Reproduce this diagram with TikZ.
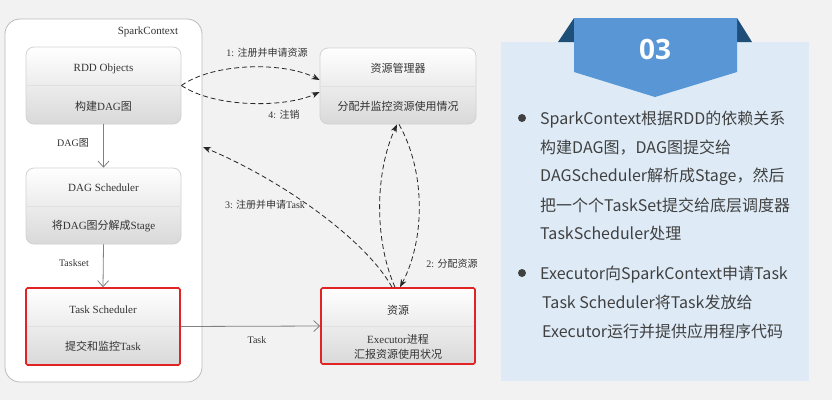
\documentclass[tikz,border=0pt]{standalone}
\usepackage{fontspec}
\setmainfont{Liberation Serif}
\newfontfamily\cjk{Noto Sans CJK SC}
\newfontfamily\numfont{Open Sans}
\usetikzlibrary{arrows.meta}
\definecolor{bg}{HTML}{F2F2F2}
\definecolor{boxline}{HTML}{D2D2D2}
\definecolor{outerline}{HTML}{BBBBBB}
\definecolor{redline}{HTML}{E02424}
\definecolor{txt}{HTML}{333333}
\definecolor{panel}{HTML}{DEEBF7}
\definecolor{ribbon}{HTML}{5896D5}
\definecolor{ribbondark}{HTML}{1F4E79}
\definecolor{bodytxt}{HTML}{404040}
\newcommand{\zh}[1]{{\cjk #1}}
\tikzset{
  stage/.style={draw=boxline, line width=0.8pt, rounded corners=8pt, top color=white, bottom color=black!15, minimum width=155pt, minimum height=77pt, inner sep=0pt},
  redstage/.style={stage, draw=redline, line width=1.6pt, rounded corners=1.5pt},
  divider/.style={draw=black!12, line width=0.8pt},
  boxtext/.style={font=\fontsize{11}{13}\selectfont, text=txt, align=center, inner sep=0pt},
  lbl/.style={font=\fontsize{10}{12}\selectfont, text=txt, inner sep=0pt},
  flow/.style={draw=black!50, line width=0.8pt, -{Straight Barb[length=6pt,width=11pt]}},
  dasharrow/.style={draw=black!85, line width=0.8pt, dash pattern=on 5pt off 3pt, -{Stealth[length=8pt,width=6pt]}},
  bodyline/.style={anchor=base west, font=\cjk\fontsize{16}{18}\selectfont, text=bodytxt, inner sep=0pt},
}
\begin{document}
\begin{tikzpicture}[x=1pt, y=-1pt]
\useasboundingbox (0,0) rectangle (832,400);
\fill[bg] (0,0) rectangle (832,400);

% SparkContext container
\node[draw=outerline, line width=0.8pt, fill=white, rounded corners=15pt, minimum width=197pt, minimum height=363pt, inner sep=0pt] (sc) at (103.5,200.5) {};
\node[boxtext] (sctitle) at (148,32) {SparkContext};
\coordinate (scin) at (203,147);

% boxes
\node[stage] (rdd) at (103.5,85.5) {};
\node[stage, minimum height=76pt] (dag) at (103.5,206) {};
\node[redstage, minimum width=154pt] (ts) at (103,326.5) {};
\node[stage, minimum width=156pt, minimum height=76pt] (rm) at (398,86) {};
\node[redstage, minimum width=154pt, minimum height=76pt] (res) at (398,326) {};

\foreach \b in {rdd,dag,rm}{\draw[divider] ([xshift=1pt]\b.west) -- ([xshift=-1pt]\b.east);}
\foreach \b in {ts,res}{\draw[divider] ([xshift=2pt]\b.west) -- ([xshift=-2pt]\b.east);}

\node[boxtext] (rddt) at ([yshift=16.5pt]rdd.center) {RDD Objects};
\node[boxtext] (rddb) at ([yshift=-20.5pt]rdd.center) {\zh{构建}DAG\zh{图}};
\node[boxtext] (dagt) at ([yshift=18pt]dag.center) {DAG Scheduler};
\node[boxtext] (dagb) at ([yshift=-20pt]dag.center) {\zh{将}DAG\zh{图分解成}Stage};
\node[boxtext] (tst) at ([yshift=16.5pt]ts.center) {Task Scheduler};
\node[boxtext] (tsb) at ([yshift=-19.5pt]ts.center) {\zh{提交和监控}Task};
\node[boxtext] (rmt) at ([yshift=18pt]rm.center) {\zh{资源管理器}};
\node[boxtext] (rmb) at ([yshift=-20pt]rm.center) {\zh{分配并监控资源使用情况}};
\node[boxtext] (rest) at ([yshift=16pt]res.center) {\zh{资源}};
\node[boxtext, font=\fontsize{11}{15}\selectfont] (resb) at ([yshift=-20.5pt]res.center) {Executor\zh{进程}\\\zh{汇报资源使用状况}};

% solid flow arrows
\draw[flow] (rdd.south) -- (dag.north);
\draw[flow] (dag.south) -- (ts.north);
\draw[flow] (ts.east) -- (res.west);
\node[lbl] (l_dag) at (73,143) {DAG\zh{图}};
\node[lbl] (l_taskset) at (74,263) {Taskset};
\node[lbl] (l_task) at (257,340) {Task};

% dashed arrows
\draw[dasharrow] (rdd.east) .. controls (215,62) and (285,62) .. ([yshift=6pt]rm.west);
\draw[dasharrow] (rdd.east) .. controls (215,108) and (285,108) .. ([yshift=-6pt]rm.west);
\draw[dasharrow] ([xshift=-6pt]res.north) .. controls (366,240) and (282,180) .. (scin);
\draw[dasharrow] ([xshift=-3pt]res.north) .. controls (374,240) and (375,172) .. ([xshift=-1pt]rm.south);
\draw[dasharrow] ([xshift=1pt]rm.south) .. controls (426,172) and (425,240) .. ([xshift=2pt]res.north);
\node[lbl] (l1) at (267,53) {1: \zh{注册并申请资源}};
\node[lbl] (l4) at (284,115) {4: \zh{注销}};
\node[lbl] (l3) at (265,205) {3: \zh{注册并申请}Task};
\node[lbl] (l2) at (452,264) {2: \zh{分配资源}};

% right panel
\fill[panel] (501,42) rectangle (809,381);
\fill[ribbondark] (558,42) -- (574,18) -- (574,42) -- cycle;
\fill[ribbondark] (752,42) -- (737,18) -- (737,42) -- cycle;
\fill[ribbon] (574,18) -- (737,18) -- (737,72) -- (655,97) -- (574,72) -- cycle;
\node[text=white, font=\numfont\bfseries\fontsize{28}{30}\selectfont, inner sep=0pt] (num) at (655,49) {03};

\fill[bodytxt] (522,118) circle (4pt);
\fill[bodytxt] (522,273) circle (4pt);
\node[bodyline] (b1) at (540,124) {SparkContext根据RDD的依赖关系};
\node[bodyline] (b2) at (540,153) {构建DAG图，DAG图提交给};
\node[bodyline] (b3) at (540,181) {DAGScheduler解析成Stage，然后};
\node[bodyline] (b4) at (540,211) {把一个个TaskSet提交给底层调度器};
\node[bodyline] (b5) at (540,239) {TaskScheduler处理};
\node[bodyline] (b6) at (540,279) {Executor向SparkContext申请Task};
\node[bodyline] (b7) at (542,308) {Task Scheduler将Task发放给};
\node[bodyline] (b8) at (542,337) {Executor运行并提供应用程序代码};
\end{tikzpicture}
\end{document}
